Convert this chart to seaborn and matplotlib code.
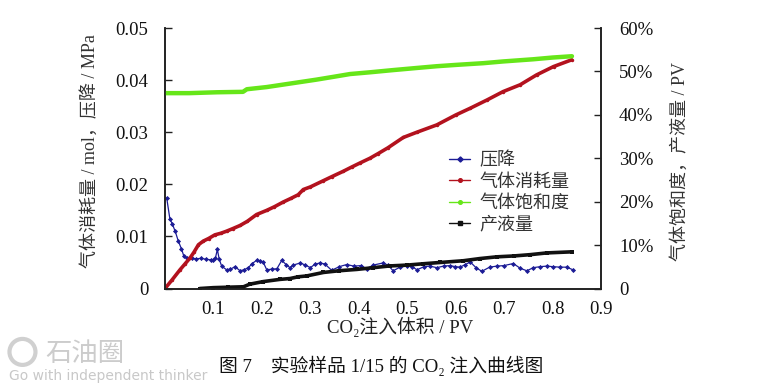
import matplotlib
matplotlib.use("Agg")
import matplotlib.pyplot as plt
import seaborn as sns
import pandas as pd
from matplotlib.ticker import FixedLocator, FuncFormatter
from matplotlib.lines import Line2D
from matplotlib.patches import Ellipse

# ---------------- data ----------------
pv_pressure = [0.0035, 0.010, 0.015, 0.021, 0.0275, 0.034, 0.039, 0.045, 0.055, 0.065,
               0.075, 0.085, 0.095, 0.100, 0.104, 0.108, 0.112, 0.117, 0.127, 0.135,
               0.1445, 0.155, 0.163, 0.172, 0.180, 0.189, 0.196, 0.203, 0.21, 0.22,
               0.231, 0.241, 0.25, 0.258, 0.265, 0.279, 0.29, 0.30, 0.31, 0.32,
               0.33, 0.344, 0.36, 0.375, 0.39, 0.405, 0.416, 0.43, 0.45, 0.46,
               0.471, 0.485, 0.499, 0.51, 0.52, 0.535, 0.547, 0.561, 0.575, 0.588,
               0.599, 0.609, 0.62, 0.63, 0.642, 0.654, 0.67, 0.685, 0.70, 0.719,
               0.733, 0.747, 0.76, 0.775, 0.788, 0.80, 0.815, 0.829, 0.842]
pressure_mpa = [0.0174, 0.0134, 0.0124, 0.0110, 0.0091, 0.0076, 0.0062, 0.0059, 0.0058, 0.0057,
                0.0058, 0.0056, 0.0055, 0.0054, 0.0058, 0.0075, 0.0056, 0.0043, 0.0036, 0.0037,
                0.0042, 0.0034, 0.0036, 0.0040, 0.0048, 0.0054, 0.0053, 0.0050, 0.0036, 0.0037,
                0.0038, 0.0054, 0.0046, 0.0040, 0.0045, 0.0049, 0.0045, 0.0040, 0.0047, 0.0049,
                0.0047, 0.0035, 0.0042, 0.0046, 0.0043, 0.0044, 0.0038, 0.0045, 0.0049, 0.0045,
                0.0034, 0.0041, 0.0043, 0.0042, 0.0036, 0.0042, 0.0043, 0.0040, 0.0043, 0.0044,
                0.0042, 0.0041, 0.0046, 0.0051, 0.0040, 0.0033, 0.0041, 0.0043, 0.0044, 0.0048,
                0.0039, 0.0034, 0.0040, 0.0042, 0.0043, 0.0042, 0.0041, 0.0041, 0.0036]

pv_gas = [0.0, 0.015, 0.031, 0.042, 0.052, 0.060, 0.069, 0.079, 0.09, 0.103,
          0.115, 0.127, 0.14, 0.155, 0.17, 0.189, 0.21, 0.226, 0.244, 0.26,
          0.275, 0.2855, 0.30, 0.327, 0.345, 0.368, 0.385, 0.4026, 0.423, 0.44,
          0.46, 0.492, 0.52, 0.561, 0.60, 0.63, 0.665, 0.698, 0.733, 0.767,
          0.802, 0.8395]
gas_mol = [0.0, 0.0017, 0.0036, 0.0048, 0.0059, 0.0070, 0.0084, 0.0091, 0.0096, 0.0103,
           0.0106, 0.0110, 0.0115, 0.0121, 0.0129, 0.0142, 0.0150, 0.0157, 0.0166, 0.0173,
           0.0180, 0.0190, 0.0195, 0.0207, 0.0215, 0.0225, 0.0233, 0.0241, 0.0250, 0.0259,
           0.0270, 0.0290, 0.0300, 0.0314, 0.0333, 0.0346, 0.0362, 0.0378, 0.0391, 0.0410,
           0.0426, 0.0439]

pv_sat = [0.0, 0.05, 0.107, 0.161, 0.169, 0.21, 0.258, 0.312, 0.35, 0.382,
          0.423, 0.47, 0.52, 0.561, 0.60, 0.657, 0.698, 0.76, 0.80, 0.84]
sat_pct = [45.0, 45.0, 45.2, 45.3, 45.9, 46.4, 47.2, 48.1, 48.8, 49.4,
           49.8, 50.3, 50.8, 51.2, 51.5, 51.9, 52.3, 52.8, 53.2, 53.5]

pv_liquid = [0.072, 0.1, 0.13, 0.162, 0.175, 0.203, 0.237, 0.258, 0.275, 0.2925,
             0.327, 0.36, 0.396, 0.43, 0.464, 0.5, 0.533, 0.568, 0.616, 0.65,
             0.685, 0.72, 0.754, 0.788, 0.84]
liquid_pct = [0.0, 0.2, 0.3, 0.4, 1.0, 1.6, 2.1, 2.3, 2.7, 2.9,
              3.7, 4.1, 4.4, 4.8, 5.2, 5.4, 5.7, 6.0, 6.4, 6.9,
              7.3, 7.5, 7.8, 8.2, 8.45]

series_names = ["压降", "气体消耗量", "气体饱和度", "产液量"]
x_ticks = [0.1, 0.2, 0.3, 0.4, 0.5, 0.6, 0.7, 0.8, 0.9]
left_ticks = [0, 0.01, 0.02, 0.03, 0.04, 0.05]
right_ticks = [0, 10, 20, 30, 40, 50, 60]

# ---------------- style ----------------
sns.set_style("white")
FAM = ["Liberation Serif", "Noto Sans CJK SC", "DejaVu Sans"]
plt.rcParams["font.family"] = FAM
plt.rcParams["axes.unicode_minus"] = False

c_blue = "#1c1c96"
c_red = "#b3121e"
c_green = "#66e619"
c_black = "#111111"

fig = plt.figure(figsize=(7.75, 3.88), dpi=100)
ax = fig.add_axes([0.2129, 0.2564, 0.5626, 0.6714])
ax2 = ax.twinx()

df_p = pd.DataFrame({"pv": pv_pressure, "v": pressure_mpa})
df_g = pd.DataFrame({"pv": pv_gas, "v": gas_mol})
df_s = pd.DataFrame({"pv": pv_sat, "v": sat_pct})
df_l = pd.DataFrame({"pv": pv_liquid, "v": liquid_pct})

sns.lineplot(data=df_p, x="pv", y="v", ax=ax, color=c_blue, lw=0.9, marker="D",
             markersize=2.6, markeredgewidth=0, legend=False)
sns.lineplot(data=df_g, x="pv", y="v", ax=ax, color=c_red, lw=2.6, marker="o",
             markersize=2.5, markeredgewidth=0, legend=False)
sns.lineplot(data=df_s, x="pv", y="v", ax=ax2, color=c_green, lw=3.2, legend=False)
sns.lineplot(data=df_l, x="pv", y="v", ax=ax2, color=c_black, lw=2.6, marker="s",
             markersize=2.2, markeredgewidth=0, legend=False)

ax.set_xlim(0, 0.9)
ax.set_ylim(0, 0.05)
ax2.set_ylim(0, 60)

ax.xaxis.set_major_locator(FixedLocator(x_ticks))
ax.xaxis.set_major_formatter(FuncFormatter(lambda v, p: f"{v:g}"))
ax.yaxis.set_major_locator(FixedLocator(left_ticks))
ax.yaxis.set_major_formatter(FuncFormatter(lambda v, p: "0" if v == 0 else f"{v:.2f}"))
ax2.yaxis.set_major_locator(FixedLocator(right_ticks))
ax2.yaxis.set_major_formatter(FuncFormatter(lambda v, p: "0" if v == 0 else f"{v:.0f}%"))

for a in (ax, ax2):
    a.set_xlabel("")
    a.set_ylabel("")
    a.spines["top"].set_visible(False)
    for s in ("left", "right", "bottom"):
        a.spines[s].set_color("#222222")
        a.spines[s].set_linewidth(1.2)
    a.tick_params(direction="in", length=5, width=1, colors="#222222",
                  labelcolor="#111111", labelsize=13.5)
ax.tick_params(axis="y", pad=12)
ax.tick_params(axis="x", pad=9)
ax2.tick_params(axis="y", pad=13)

fig.text(0.116, 0.61, "气体消耗量 / mol，压降 / MPa", rotation=90, ha="center",
         va="center", fontsize=13, color="#333333")
fig.text(0.877, 0.585, "气体饱和度，产液量 / PV", rotation=90, ha="center",
         va="center", fontsize=13, color="#333333")
fig.text(0.516, 0.158, "CO₂注入体积 / PV", ha="center", va="center",
         fontsize=13.5, color="#222222")
fig.text(0.492, 0.058, "图 7    实验样品 1/15 的 CO₂ 注入曲线图", ha="center",
         va="center", fontsize=13.5, color="#111111")

# watermark
fig.patches.append(Ellipse((0.029, 0.093), 26 / 775, 26 / 388, transform=fig.transFigure,
                           facecolor="none", edgecolor="#d0d0d0", lw=3))
fig.text(0.058, 0.09, "石油圈", ha="left", va="center", fontsize=19,
         color="#cccccc", family=["Noto Sans CJK SC"])
fig.text(0.012, 0.031, "Go with independent thinker", ha="left", va="center",
         fontsize=10, color="#c8c8c8", family=["DejaVu Sans"])

handles = [
    Line2D([], [], color=c_blue, lw=1, marker="D", markersize=2.6),
    Line2D([], [], color=c_red, lw=1, marker="o", markersize=2.6),
    Line2D([], [], color=c_green, lw=1, marker="o", markersize=2.6),
    Line2D([], [], color=c_black, lw=1, marker="s", markersize=2.6),
]
leg = ax2.legend(handles, series_names, loc="upper left", bbox_to_anchor=(0.63, 0.56),
                 frameon=False, fontsize=13, handlelength=1.2, handletextpad=0.5,
                 labelspacing=0.25, borderpad=0)
for t in leg.get_texts():
    t.set_color("#333333")

fig.savefig("out.png", dpi=100)
